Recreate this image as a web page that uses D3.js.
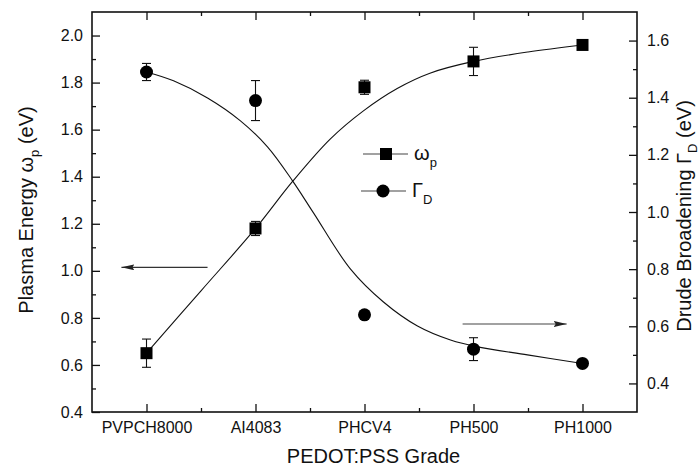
<!DOCTYPE html>
<html>
<head>
<meta charset="utf-8">
<script src="https://cdn.jsdelivr.net/npm/d3@7"></script>
<style>
  body { margin: 0; background: #fff; }
  svg { display: block; font-family: "Liberation Sans", Arial, sans-serif; }
</style>
</head>
<body>
<svg id="chart" width="699" height="469"></svg>
<script>
// categories on the x axis
const grades = ["PVPCH8000", "AI4083", "PHCV4", "PH500", "PH1000"];

// plasma energy (left axis) with error bars
const plasmaEnergy = [0.65, 1.18, 1.78, 1.89, 1.96];
const plasmaErr = [0.06, 0.03, 0.03, 0.06, 0];

// drude broadening (right axis) with error bars
const drudeWidth = [1.49, 1.39, 0.64, 0.52, 0.47];
const drudeErr = [0.03, 0.07, 0, 0.04, 0];

// fitted curves (x = grade position 1..5)
const plasmaFitX = [1, 1.5, 2, 2.34, 2.685, 2.99, 3.3, 3.6, 4, 4.5, 5];
const plasmaFitY = [0.65, 0.915, 1.18, 1.38, 1.56, 1.68, 1.775, 1.84, 1.89, 1.93, 1.96];
const drudeFitX = [1, 1.248, 1.56, 1.862, 2.11, 2.34, 2.532, 2.87, 3.174, 3.486, 3.789, 4.037, 4.495, 5];
const drudeFitY = [1.49, 1.459, 1.399, 1.319, 1.228, 1.109, 0.997, 0.801, 0.685, 0.601, 0.552, 0.528, 0.50, 0.47];

// tick values
const leftTicks = [0.4, 0.6, 0.8, 1.0, 1.2, 1.4, 1.6, 1.8, 2.0];
const leftMinor = [0.5, 0.7, 0.9, 1.1, 1.3, 1.5, 1.7, 1.9];
const rightTicks = [0.4, 0.6, 0.8, 1.0, 1.2, 1.4, 1.6];
const rightMinor = [0.5, 0.7, 0.9, 1.1, 1.3, 1.5];
const xMinor = [1.5, 2.5, 3.5, 4.5];

// pointer arrows: [x0, x1, y]  (x in grade position, y in own axis units)
const leftArrow = [1.56, 0.77, 1.015];
const rightArrow = [3.9, 4.855, 0.608];

const svg = d3.select("#chart");
const W = +svg.attr("width"), H = +svg.attr("height");
const margin = { left: 92, right: 62, top: 12, bottom: 57 };
const width = W - margin.left - margin.right;
const height = H - margin.top - margin.bottom;

const g = svg.append("g").attr("transform", `translate(${margin.left},${margin.top})`);

const x = d3.scaleLinear().domain([0.5, 5.5]).range([0, width]);
const yL = d3.scaleLinear().domain([0.4, 2.1]).range([height, 0]);
const yR = d3.scaleLinear().domain([0.3, 1.7]).range([height, 0]);

const ink = "#111";
const fmt = d3.format(".1f");

// Axes: ticks point inward
const styleAxis = (sel, fs) => {
  sel.select(".domain").remove();
  sel.selectAll("line").attr("stroke", ink).attr("stroke-width", 1.3);
  sel.selectAll("text").attr("fill", ink).style("font-size", fs + "px").style("font-family", null);
};

g.append("g").attr("transform", `translate(0,${height})`)
  .call(d3.axisBottom(x).tickValues([1, 2, 3, 4, 5]).tickFormat(d => grades[d - 1])
    .tickSizeInner(-8).tickSizeOuter(0).tickPadding(10))
  .call(s => styleAxis(s, 16));
g.append("g").attr("transform", `translate(0,${height})`)
  .call(d3.axisBottom(x).tickValues(xMinor).tickFormat("").tickSizeInner(-4).tickSizeOuter(0))
  .call(s => styleAxis(s, 16));
g.append("g")
  .call(d3.axisTop(x).tickValues([1, 2, 3, 4, 5]).tickFormat("").tickSizeInner(-8).tickSizeOuter(0))
  .call(s => styleAxis(s, 16));
g.append("g")
  .call(d3.axisTop(x).tickValues(xMinor).tickFormat("").tickSizeInner(-4).tickSizeOuter(0))
  .call(s => styleAxis(s, 16));

g.append("g")
  .call(d3.axisLeft(yL).tickValues(leftTicks).tickFormat(fmt).tickSizeInner(-8).tickSizeOuter(0).tickPadding(9))
  .call(s => styleAxis(s, 16));
g.append("g")
  .call(d3.axisLeft(yL).tickValues(leftMinor).tickFormat("").tickSizeInner(-4).tickSizeOuter(0))
  .call(s => styleAxis(s, 16));

g.append("g").attr("transform", `translate(${width},0)`)
  .call(d3.axisRight(yR).tickValues(rightTicks).tickFormat(fmt).tickSizeInner(-8).tickSizeOuter(0).tickPadding(10))
  .call(s => styleAxis(s, 16));
g.append("g").attr("transform", `translate(${width},0)`)
  .call(d3.axisRight(yR).tickValues(rightMinor).tickFormat("").tickSizeInner(-4).tickSizeOuter(0))
  .call(s => styleAxis(s, 16));

// frame
g.append("rect").attr("width", width).attr("height", height)
  .attr("fill", "none").attr("stroke", ink).attr("stroke-width", 1.6);

// fit curves
const plasmaFit = plasmaFitX.map((d, i) => [d, plasmaFitY[i]]);
const drudeFit = drudeFitX.map((d, i) => [d, drudeFitY[i]]);
g.append("path").datum(plasmaFit)
  .attr("fill", "none").attr("stroke", ink).attr("stroke-width", 1.1)
  .attr("d", d3.line().x(d => x(d[0])).y(d => yL(d[1])).curve(d3.curveCatmullRom.alpha(0.5)));
g.append("path").datum(drudeFit)
  .attr("fill", "none").attr("stroke", ink).attr("stroke-width", 1.1)
  .attr("d", d3.line().x(d => x(d[0])).y(d => yR(d[1])).curve(d3.curveCatmullRom.alpha(0.5)));

// error bars
const errBars = (vals, errs, y) => {
  const data = vals.map((v, i) => ({ i: i + 1, v, e: errs[i] })).filter(d => d.e > 0);
  const eg = g.append("g").attr("stroke", ink).attr("stroke-width", 1.1);
  eg.selectAll(".stem").data(data).join("line")
    .attr("x1", d => x(d.i)).attr("x2", d => x(d.i))
    .attr("y1", d => y(d.v - d.e)).attr("y2", d => y(d.v + d.e));
  [-1, 1].forEach(s => {
    eg.selectAll(".cap" + s).data(data).join("line")
      .attr("x1", d => x(d.i) - 4.5).attr("x2", d => x(d.i) + 4.5)
      .attr("y1", d => y(d.v + s * d.e)).attr("y2", d => y(d.v + s * d.e));
  });
};
errBars(plasmaEnergy, plasmaErr, yL);
errBars(drudeWidth, drudeErr, yR);

// markers
g.selectAll(".sq").data(plasmaEnergy).join("rect")
  .attr("x", (d, i) => x(i + 1) - 6).attr("y", d => yL(d) - 6)
  .attr("width", 12).attr("height", 12).attr("fill", "#000");
g.selectAll(".dot").data(drudeWidth).join("circle")
  .attr("cx", (d, i) => x(i + 1)).attr("cy", d => yR(d))
  .attr("r", 6.5).attr("fill", "#000");

// arrows
svg.append("defs").append("marker")
  .attr("id", "head").attr("viewBox", "0 0 13 6").attr("refX", 13).attr("refY", 3)
  .attr("markerWidth", 13).attr("markerHeight", 6).attr("markerUnits", "userSpaceOnUse")
  .attr("orient", "auto")
  .append("path").attr("d", "M0,0L13,3L0,6L2,3Z").attr("fill", "#222");
g.append("line")
  .attr("x1", x(leftArrow[0])).attr("x2", x(leftArrow[1]))
  .attr("y1", yL(leftArrow[2])).attr("y2", yL(leftArrow[2]))
  .attr("stroke", "#333").attr("stroke-width", 1.2).attr("marker-end", "url(#head)");
g.append("line")
  .attr("x1", x(rightArrow[0])).attr("x2", x(rightArrow[1]))
  .attr("y1", yR(rightArrow[2])).attr("y2", yR(rightArrow[2]))
  .attr("stroke", "#444").attr("stroke-width", 1.2).attr("marker-end", "url(#head)");

// legend
const legend = g.append("g").attr("transform", "translate(271,142)");
const legendRows = [
  { sym: "square", main: "\u03c9", sub: "p" },
  { sym: "circle", main: "\u0393", sub: "D" }
];
legendRows.forEach((r, i) => {
  const row = legend.append("g").attr("transform", `translate(${i ? -2 : 0},${i * 37})`);
  row.append("line").attr("x1", 0).attr("x2", 45).attr("stroke", "#444").attr("stroke-width", 1.2);
  if (r.sym === "square") {
    row.append("rect").attr("x", 17).attr("y", -6).attr("width", 12).attr("height", 12).attr("fill", "#000");
  } else {
    row.append("circle").attr("cx", 22).attr("r", 6.5).attr("fill", "#000");
  }
  const t = row.append("text").attr("x", 51).attr("y", 6).attr("fill", ink).style("font-size", "20px");
  t.append("tspan").text(r.main);
  t.append("tspan").attr("dy", 7).style("font-size", "13px").text(r.sub);
});

// axis titles
const leftTitle = svg.append("text")
  .attr("transform", "translate(33,210) rotate(-90)")
  .attr("text-anchor", "middle").attr("fill", ink).style("font-size", "20px");
leftTitle.append("tspan").text("Plasma Energy \u03c9");
leftTitle.append("tspan").attr("dy", 6).style("font-size", "13px").text("p");
leftTitle.append("tspan").attr("dy", -6).text(" (eV)");

const rightTitle = svg.append("text")
  .attr("transform", "translate(691,216) rotate(-90)")
  .attr("text-anchor", "middle").attr("fill", ink).style("font-size", "20px");
rightTitle.append("tspan").text("Drude Broadening \u0393");
rightTitle.append("tspan").attr("dy", 6).style("font-size", "13px").text("D");
rightTitle.append("tspan").attr("dy", -6).text(" (eV)");

svg.append("text")
  .attr("x", 373.5).attr("y", 463)
  .attr("text-anchor", "middle").attr("fill", ink).style("font-size", "20px")
  .text("PEDOT:PSS Grade");
</script>
</body>
</html>
